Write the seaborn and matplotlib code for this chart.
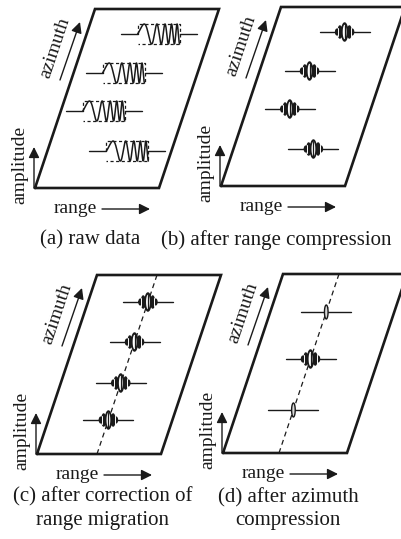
import numpy as np
import pandas as pd
import matplotlib
matplotlib.use("Agg")
import matplotlib.pyplot as plt
import seaborn as sns

sns.set_theme(style="white")
plt.rcParams['font.family'] = ['Liberation Serif', 'DejaVu Serif']

# ---------------- data ----------------
# bottom-left corner of each imaging plane (pixels)
panel_origin_x = [35, 221, 37, 223]
panel_origin_y = [188, 186, 454, 453]
caption_lines = [["(a) raw data"],
                 ["(b) after range compression"],
                 ["(c) after correction of", "range migration"],
                 ["(d) after azimuth", "compression"]]
caption_x = [90, 276, 103, 288]
caption_y = [240, 240, 497, 498]

# point targets: position along range and along azimuth in the plane
raw_range = [72, 50, 43, 80]
raw_azimuth = [154, 115, 77, 37]
corrected_range = [60, 60, 60, 60]
corrected_azimuth = [152, 112, 71, 34]
final_range = [56, 56, 56]
final_azimuth = [141, 94, 43]
final_kind = ["spike", "blob", "spike"]
migration_line_range = [60, 56]   # dashed line in (c), (d)

axis_labels = ["range", "azimuth", "amplitude"]

# ---------------- geometry ----------------
W, H, S = 124, 179, 60
K = S / H
ANG = np.degrees(np.arctan2(H, S))
LFS = 14
CFS = 15


def P(o, r, v):
    return o[0] + r + v * K, o[1] - v


fig = plt.figure(figsize=(4.01, 5.39), dpi=100)
ax = fig.add_axes([0, 0, 1, 1])

waves = []


def add_wave(xs, ys, wid):
    waves.append(pd.DataFrame({"x": xs, "y": ys, "wid": wid}))


def chirp(cx, cy, wid):
    L, A = 42, 10
    t = np.linspace(0, 1, 800)
    f0, f1 = 1.0, 8.5
    ph = 2 * np.pi * (f0 * t + 0.5 * (f1 - f0) * t ** 2)
    xs = cx - L / 2 + L * t
    ys = cy - A * np.sin(ph)
    add_wave(xs, ys, wid)
    # dashed envelope
    ax.plot([cx - L / 2, cx - L / 2, cx + L / 2, cx + L / 2, cx - L / 2],
            [cy, cy - A, cy - A, cy + A, cy + A], ls=(0, (2.5, 2)), lw=0.9,
            color="k")
    ax.plot([cx - L / 2 - 17, cx - L / 2], [cy, cy], color="k", lw=1.0)
    ax.plot([cx + L / 2, cx + L / 2 + 17], [cy, cy], color="k", lw=1.0)


def lobe_env(x):
    ax_ = np.abs(x)
    env = np.zeros_like(x)
    m0 = ax_ <= 3
    env[m0] = 9.0 * np.cos(np.pi * ax_[m0] / 6) ** 0.5
    m1 = (ax_ > 3) & (ax_ <= 6.5)
    env[m1] = 6.0 * np.sin(np.pi * (ax_[m1] - 3) / 3.5) ** 0.5
    m2 = (ax_ > 6.5) & (ax_ <= 9)
    env[m2] = 2.8 * np.sin(np.pi * (ax_[m2] - 6.5) / 2.5) ** 0.5
    return env


def blob(cx, cy, wid):
    ax.plot([cx - 25, cx + 25], [cy, cy], color="k", lw=1.0, zorder=3)
    x = np.linspace(-9, 9, 400)
    env = lobe_env(x)
    xs = np.concatenate([cx + x, cx + x[::-1]])
    ys = np.concatenate([cy - env, cy + env[::-1]])
    ax.fill(xs, ys, color="k", zorder=4, lw=0)
    add_wave(xs, ys, wid)
    th = np.linspace(0, 2 * np.pi, 80)
    ax.fill(cx + 1.9 * np.cos(th), cy + 7.2 * np.sin(th), color="white",
            zorder=6, lw=0)
    ax.plot([cx, cx], [cy - 7, cy + 7], color="k", lw=0.9, zorder=7)
    for xg in (-6.5, 6.5):
        ax.plot([cx + xg, cx + xg], [cy - 4, cy + 4], color="white", lw=0.7,
                zorder=6)


def spike(cx, cy, wid):
    th = np.linspace(0, 2 * np.pi, 100)
    ax.fill(cx + 1.8 * np.cos(th), cy + 7 * np.sin(th), facecolor="#d8d8d8",
            edgecolor="k", lw=1.0, zorder=4)
    ax.plot([cx - 25, cx + 25], [cy, cy], color="k", lw=1.0)


arrow_kw = dict(arrowstyle="-|>", lw=1.0, color="k", mutation_scale=16,
                shrinkA=0, shrinkB=0)

wid = 0
for i in range(4):
    o = (panel_origin_x[i], panel_origin_y[i])
    # plane
    cr = [(0, 0), (W, 0), (W, H), (0, H), (0, 0)]
    pts = [P(o, r, v) for r, v in cr]
    ax.plot([p[0] for p in pts], [p[1] for p in pts], color="k", lw=1.9,
            solid_joinstyle="miter")
    # amplitude arrow + label
    ax.annotate("", xy=(o[0] - 1, o[1] - 41), xytext=(o[0] - 1, o[1]),
                arrowprops=arrow_kw)
    ax.text(o[0] - 15, o[1] - 23, axis_labels[2], rotation=90, ha="center",
            va="center", fontsize=LFS, color="k")
    # range label + arrow
    ax.text(o[0] + 40, o[1] + 25, axis_labels[0], ha="center", va="baseline",
            fontsize=LFS, color="k")
    ax.annotate("", xy=(o[0] + 115, o[1] + 21), xytext=(o[0] + 67, o[1] + 21),
                arrowprops=arrow_kw)
    # azimuth label + arrow
    ax.text(o[0] + 20, o[1] - 140, axis_labels[1], rotation=ANG,
            rotation_mode="anchor", ha="center", va="center", fontsize=LFS,
            color="k")
    ax.annotate("", xy=(o[0] + 45, o[1] - 166), xytext=(o[0] + 25, o[1] - 108),
                arrowprops=arrow_kw)
    # captions
    for j, line in enumerate(caption_lines[i]):
        ax.text(caption_x[i], caption_y[i] + 23 * j, line, ha="center",
                va="center", fontsize=CFS, color="k")

    if i == 0:
        for r, v in zip(raw_range, raw_azimuth):
            cx, cy = P(o, r, v)
            chirp(cx, cy, wid)
            wid += 1
    elif i == 1:
        for r, v in zip(raw_range, raw_azimuth):
            cx, cy = P(o, r, v)
            blob(cx, cy, wid)
            wid += 1
    elif i == 2:
        a, b = P(o, migration_line_range[0], 0), P(o, migration_line_range[0], H)
        ax.plot([a[0], b[0]], [a[1], b[1]], color="k", lw=0.9, ls=(0, (4, 3)))
        for r, v in zip(corrected_range, corrected_azimuth):
            cx, cy = P(o, r, v)
            blob(cx, cy, wid)
            wid += 1
    else:
        a, b = P(o, migration_line_range[1], 0), P(o, migration_line_range[1], H)
        ax.plot([a[0], b[0]], [a[1], b[1]], color="k", lw=0.9, ls=(0, (4, 3)))
        for r, v, k in zip(final_range, final_azimuth, final_kind):
            cx, cy = P(o, r, v)
            if k == "blob":
                blob(cx, cy, wid)
            else:
                spike(cx, cy, wid)
            wid += 1

df = pd.concat(waves, ignore_index=True)
sns.lineplot(data=df, x="x", y="y", units="wid", estimator=None, sort=False,
             color="k", lw=1.1, ax=ax, legend=False, zorder=5)

ax.set_xlim(0, 401)
ax.set_ylim(539, 0)
ax.axis("off")
fig.savefig("out.png", dpi=100, facecolor="white")
